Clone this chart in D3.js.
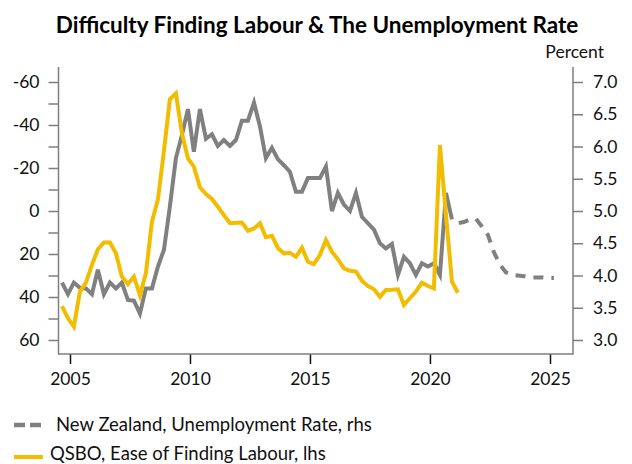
<!DOCTYPE html>
<html><head><meta charset="utf-8">
<script src="https://cdn.jsdelivr.net/npm/d3@7"></script>
<style>body{margin:0;background:#fff}svg{display:block}</style>
</head><body>
<svg id="c" width="632" height="464"></svg>
<script>
// ---- data ----
const firstQuarter = [2004, 3]; // series start: 2004 Q3, quarterly
const unempActual = [3.89,3.71,3.89,3.81,3.80,3.71,4.09,3.71,3.89,3.80,3.89,3.62,3.61,3.41,3.80,3.80,4.14,4.40,5.07,5.82,
  6.18,6.58,5.92,6.58,6.12,6.19,6.01,6.10,6.01,6.10,6.40,6.40,6.68,6.31,5.82,5.98,5.80,5.71,5.61,5.30,
  5.30,5.51,5.51,5.51,5.69,5.00,5.28,5.10,5.00,5.28,4.91,4.81,4.71,4.50,4.42,4.49,4.01,4.29,4.19,4.01,
  4.19,4.14,4.19,4.01,5.28,4.87];
const forecastStartIndex = 65; // 2020 Q4
const unempForecast = [4.87,4.81,4.83,4.87,4.88,4.76,4.63,4.36,4.17,4.05,4.01,4.00,3.99,3.97,3.97,3.97,3.96,3.96];
const qsbo = [44.2,49.9,53.8,37.5,33.3,25.1,17.8,14.7,14.7,19.7,30.5,34.0,30.5,39.1,29.0,5.0,-5.5,-28,-52.0,-54.7,
  -36,-24.5,-20.6,-11,-7.9,-5.6,-2.0,1.9,5.7,5.5,5.4,9.2,8.1,5.7,12.2,11.5,17.3,19.7,19.4,21.3,
  17.1,23.6,24.7,20.5,13.5,18.9,22.5,26.7,27.8,28.2,32.4,34.9,36.4,39.9,36.7,36.6,36.4,43.7,40.6,37.5,
  33.3,34.9,36.0,-30.7,2,32.9,38.0];
const leftTickValues = [-60,-50,-40,-30,-20,-10,0,10,20,30,40,50,60];
const leftLabelValues = [-60,-40,-20,0,20,40,60];
const rightTickValues = [3.0,3.5,4.0,4.5,5.0,5.5,6.0,6.5,7.0];
const yearTicks = [2005,2010,2015,2020,2025];
const title = "Difficulty Finding Labour & The Unemployment Rate";
const unitLabel = "Percent";
const legendLabels = ["New Zealand, Unemployment Rate, rhs", "QSBO, Ease of Finding Labour, lhs"];
const colors = {unemp:"#808080", qsbo:"#F2BC00", axis:"#7f7f7f", text:"#111"};

// ---- layout ----
const W = 632, H = 464;
const plot = {left:58.5, right:573, top:67, bottom:354};
const FONT = "Lato, 'Open Sans', sans-serif";

function qDate(i){
  const q0 = (firstQuarter[1]-1) + i;
  const y = firstQuarter[0] + Math.floor(q0/4);
  const q = q0 % 4;
  return new Date(y, q*3+2, 1);
}

const x = d3.scaleTime().domain([new Date(2005,0,1), new Date(2025,0,1)]).range([70,550]);
const yL = d3.scaleLinear().domain([-60,60]).range([82,340]);
const yR = d3.scaleLinear().domain([7,3]).range([82,340]);

const svg = d3.select("#c");
svg.append("rect").attr("width",W).attr("height",H).attr("fill","#fff");

// title
svg.append("text").attr("x",317).attr("y",33).attr("text-anchor","middle")
  .attr("font-family",FONT).attr("font-weight",700).attr("font-size",22.5).attr("fill","#000").text(title);
svg.append("text").attr("x",604).attr("y",58).attr("text-anchor","end")
  .attr("font-family",FONT).attr("font-size",17.5).attr("fill",colors.text).text(unitLabel);

// axes
const gL = svg.append("g").attr("transform",`translate(${plot.left},0)`)
  .call(d3.axisLeft(yL).tickValues(leftTickValues).tickSize(10).tickPadding(9)
    .tickFormat(d => leftLabelValues.includes(d) ? String(d) : ""));
const gR = svg.append("g").attr("transform",`translate(${plot.right},0)`)
  .call(d3.axisRight(yR).tickValues(rightTickValues).tickSize(10).tickPadding(10)
    .tickFormat(d3.format(".1f")));
const gB = svg.append("g").attr("transform",`translate(0,${plot.bottom})`)
  .call(d3.axisBottom(x).tickValues(yearTicks.map(y=>new Date(y,0,1))).tickSize(10).tickPadding(9)
    .tickFormat(d3.timeFormat("%Y")));
[gL,gR,gB].forEach(g=>{
  g.select(".domain").remove();
  g.selectAll("text").attr("font-family",FONT).attr("font-size",17.5).attr("fill",colors.text);
});
gL.selectAll("line").attr("stroke",colors.axis).attr("stroke-width",1.5);
gR.selectAll("line").attr("stroke",colors.axis).attr("stroke-width",1.5);
gB.selectAll("line").attr("stroke","#111").attr("stroke-width",1.5);

// frame lines (left, right, bottom)
const frame = svg.append("g").attr("stroke",colors.axis).attr("stroke-width",1.5).attr("fill","none");
frame.append("path").attr("d",`M${plot.left},${plot.top}V${plot.bottom}H${plot.right}V${plot.top}`);

// series
const lineL = d3.line().x(d=>x(d.date)).y(d=>yL(d.v));
const lineR = d3.line().x(d=>x(d.date)).y(d=>yR(d.v));
const qsboData = qsbo.map((v,i)=>({date:qDate(i), v}));
const unData = unempActual.map((v,i)=>({date:qDate(i), v}));
const fcData = unempForecast.map((v,i)=>({date:qDate(forecastStartIndex+i), v}));

svg.append("path").datum(unData).attr("d",lineR).attr("fill","none")
  .attr("stroke",colors.unemp).attr("stroke-width",4);
svg.append("path").datum(qsboData).attr("d",lineL).attr("fill","none")
  .attr("stroke",colors.qsbo).attr("stroke-width",4);
svg.append("path").datum(fcData).attr("d",lineR).attr("fill","none")
  .attr("stroke",colors.unemp).attr("stroke-width",4)
  .attr("stroke-dasharray","10,8").attr("stroke-dashoffset",10);

// legend
const lg = svg.append("g");
lg.append("line").attr("x1",14).attr("x2",25).attr("y1",425).attr("y2",425)
  .attr("stroke",colors.unemp).attr("stroke-width",4.5);
lg.append("line").attr("x1",30).attr("x2",41).attr("y1",425).attr("y2",425)
  .attr("stroke",colors.unemp).attr("stroke-width",4.5);
lg.append("text").attr("x",56).attr("y",431).attr("font-family",FONT).attr("font-size",18.5)
  .attr("fill",colors.text).text(legendLabels[0]);
lg.append("line").attr("x1",14).attr("x2",43).attr("y1",457).attr("y2",457)
  .attr("stroke",colors.qsbo).attr("stroke-width",4);
lg.append("text").attr("x",50).attr("y",460).attr("font-family",FONT).attr("font-size",18.5)
  .attr("fill",colors.text).text(legendLabels[1]);
</script>
</body></html>
